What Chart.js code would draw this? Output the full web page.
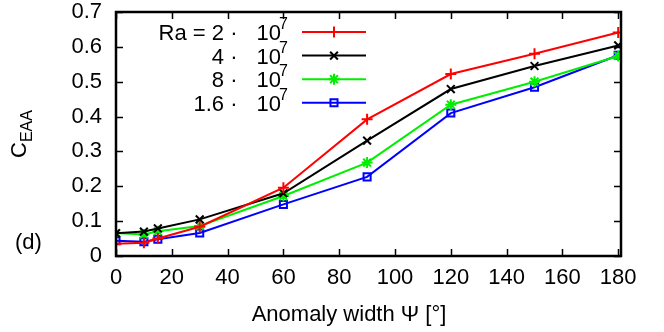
<!DOCTYPE html>
<html lang="en">
<head>
    <meta charset="UTF-8">
    <title>C_EAA vs anomaly width</title>
    <script src="https://cdn.jsdelivr.net/npm/chart.js"></script>
    <style>
        body { margin: 0; background: #fff; }
        #wrap { width: 664px; height: 332px; }
    </style>
</head>
<body>
    <div id="wrap"><canvas id="chart" width="664" height="332"></canvas></div>

    <script>
        // data
        const widths = [0, 10, 15, 30, 60, 90, 120, 150, 180];
        const ra2e7 = [0.035, 0.038, 0.05, 0.084, 0.196, 0.392, 0.522, 0.58, 0.641];
        const ra4e7 = [0.065, 0.07, 0.079, 0.105, 0.18, 0.331, 0.479, 0.545, 0.604];
        const ra8e7 = [0.066, 0.062, 0.071, 0.086, 0.172, 0.268, 0.434, 0.5, 0.574];
        const ra16e7 = [0.044, 0.041, 0.048, 0.066, 0.148, 0.227, 0.41, 0.484, 0.576];
        const legendPrefix = ['Ra = 2', '4', '8', '1.6'];
        const xTicks = [0, 20, 40, 60, 80, 100, 120, 140, 160, 180];

        const FONT = '"Liberation Sans", Arial, sans-serif';
        const FS = 22;
        const SUB = 16;

        function series(label, values, color, style) {
            return {
                label: label,
                data: widths.map((x, i) => ({ x: x, y: values[i] })),
                borderColor: color,
                backgroundColor: 'rgba(0,0,0,0)',
                borderWidth: 2,
                pointStyle: style,
                pointRadius: style === 'rect' ? 5 : 5.5,
                pointBorderWidth: 2,
                pointBorderColor: color,
                pointBackgroundColor: 'rgba(0,0,0,0)',
                tension: 0
            };
        }

        const datasets = [
            series(legendPrefix[0], ra2e7, '#ff0000', 'cross'),
            series(legendPrefix[1], ra4e7, '#000000', 'crossRot'),
            series(legendPrefix[2], ra8e7, '#00ee00', 'star'),
            series(legendPrefix[3], ra16e7, '#0000ff', 'rect')
        ];

        // frame, inward ticks on all sides, legend and titles (gnuplot look)
        const decor = {
            id: 'decor',
            afterDraw(chart) {
                const ctx = chart.ctx;
                const a = chart.chartArea;
                const xs = chart.scales.x, ys = chart.scales.y;
                ctx.save();
                ctx.strokeStyle = '#000';
                ctx.lineWidth = 1.5;
                const tl = 7;
                ctx.beginPath();
                xTicks.forEach(v => {
                    const px = Math.round(xs.getPixelForValue(v)) + 0.5;
                    ctx.moveTo(px, a.bottom); ctx.lineTo(px, a.bottom - tl);
                    ctx.moveTo(px, a.top); ctx.lineTo(px, a.top + tl);
                });
                ys.ticks.forEach(t => {
                    const py = Math.round(ys.getPixelForValue(t.value)) + 0.5;
                    ctx.moveTo(a.left, py); ctx.lineTo(a.left + tl, py);
                    ctx.moveTo(a.right, py); ctx.lineTo(a.right - tl, py);
                });
                ctx.stroke();
                ctx.lineWidth = 2.5;
                ctx.strokeRect(a.left, a.top, a.right - a.left, a.bottom - a.top);

                // legend
                const sampleL = 302, sampleR = 366;
                ctx.textBaseline = 'alphabetic';
                datasets.forEach((ds, i) => {
                    const y = 32 + i * 23.6;
                    const base = y + 8;
                    ctx.fillStyle = '#000';
                    ctx.font = FS + 'px ' + FONT;
                    ctx.textAlign = 'right';
                    ctx.fillText('10', 281, base);
                    ctx.fillText(ds.label, 224, base);
                    ctx.textAlign = 'center';
                    ctx.fillText('\u00b7', 234, base);
                    ctx.font = SUB + 'px ' + FONT;
                    ctx.textAlign = 'left';
                    ctx.fillText('7', 279, base - 11);
                    ctx.strokeStyle = ds.borderColor;
                    ctx.lineWidth = 2;
                    ctx.beginPath();
                    ctx.moveTo(sampleL, y); ctx.lineTo(sampleR, y);
                    ctx.stroke();
                    ctx.fillStyle = 'rgba(0,0,0,0)';
                    Chart.helpers.drawPoint(ctx, {
                        pointStyle: ds.pointStyle, radius: ds.pointRadius, borderWidth: 2
                    }, (sampleL + sampleR) / 2, y);
                });

                // y title C_EAA (rotated)
                ctx.fillStyle = '#000';
                ctx.save();
                ctx.translate(26, 134);
                ctx.rotate(-Math.PI / 2);
                ctx.textAlign = 'left';
                ctx.textBaseline = 'alphabetic';
                ctx.font = FS + 'px ' + FONT;
                const cw = ctx.measureText('C').width;
                ctx.font = SUB + 'px ' + FONT;
                const sw = ctx.measureText('EAA').width;
                const start = -(cw + sw) / 2;
                ctx.font = FS + 'px ' + FONT;
                ctx.fillText('C', start, 0);
                ctx.font = SUB + 'px ' + FONT;
                ctx.fillText('EAA', start + cw, 6);
                ctx.restore();

                // panel label
                ctx.font = FS + 'px ' + FONT;
                ctx.textAlign = 'left';
                ctx.textBaseline = 'middle';
                ctx.fillText('(d)', 15, 243);

                // x title
                ctx.textAlign = 'center';
                ctx.fillText('Anomaly width \u03a8 [\u00b0]', 349, 315);
                ctx.restore();
            }
        };

        new Chart(document.getElementById('chart'), {
            type: 'line',
            data: { datasets: datasets },
            options: {
                responsive: false,
                animation: false,
                layout: { padding: { top: 12, right: 43, left: 0, bottom: 0 } },
                plugins: { legend: { display: false }, tooltip: { enabled: false } },
                scales: {
                    x: {
                        type: 'linear',
                        min: 0,
                        max: 181,
                        afterBuildTicks: s => { s.ticks = xTicks.map(v => ({ value: v })); },
                        afterFit: s => { s.height = 76; s.paddingLeft = 0; s.paddingRight = 0; },
                        grid: { display: false, drawTicks: false },
                        border: { display: false },
                        ticks: { color: '#000', font: { family: FONT, size: FS }, padding: 9, maxRotation: 0 }
                    },
                    y: {
                        min: 0,
                        max: 0.7,
                        afterFit: s => { s.width = 116; s.paddingTop = 0; s.paddingBottom = 0; },
                        grid: { display: false, drawTicks: false },
                        border: { display: false },
                        ticks: {
                            stepSize: 0.1,
                            color: '#000',
                            font: { family: FONT, size: FS },
                            padding: 14,
                            callback: v => (v === 0 ? '0' : v.toFixed(1))
                        }
                    }
                }
            },
            plugins: [decor]
        });
    </script>
</body>
</html>
